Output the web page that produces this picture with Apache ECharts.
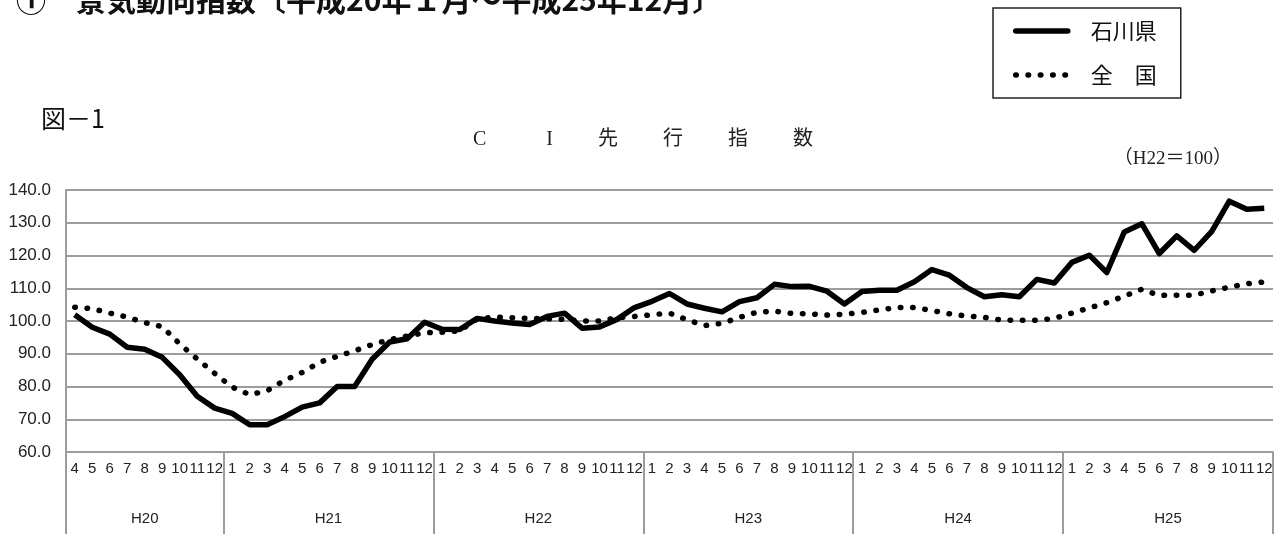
<!DOCTYPE html>
<html>
<head>
<meta charset="utf-8">
<script src="https://cdn.jsdelivr.net/npm/echarts@6/dist/echarts.min.js"></script>
<style>
  html, body { margin: 0; padding: 0; background: #fff; }
  #chart { width: 1287px; height: 534px; }
</style>
</head>
<body>
<div id="chart"></div>
<script>
// 月（H20年4月～H25年12月）
const months = [
  '4', '5', '6', '7', '8', '9', '10', '11', '12',
  '1', '2', '3', '4', '5', '6', '7', '8', '9', '10', '11', '12',
  '1', '2', '3', '4', '5', '6', '7', '8', '9', '10', '11', '12',
  '1', '2', '3', '4', '5', '6', '7', '8', '9', '10', '11', '12',
  '1', '2', '3', '4', '5', '6', '7', '8', '9', '10', '11', '12',
  '1', '2', '3', '4', '5', '6', '7', '8', '9', '10', '11', '12'
]
const years = ['H20', 'H21', 'H22', 'H23', 'H24', 'H25']

// CI先行指数（H22=100）
const ishikawa = [
  101.9, 98.1, 96.0, 92.0, 91.4, 88.9, 83.6, 77.0, 73.4,
  71.8, 68.3, 68.3, 70.8, 73.7, 75.0, 80.0, 80.0, 88.3, 93.6, 94.6, 99.6,
  97.5, 97.4, 100.8, 100.0, 99.4, 98.9, 101.4, 102.4, 97.8, 98.2, 100.5, 104.1,
  106.0, 108.4, 105.2, 103.9, 102.8, 105.9, 107.1, 111.2, 110.5, 110.6, 109.1, 105.2,
  109.0, 109.4, 109.4, 112.0, 115.7, 114.0, 110.2, 107.4, 108.0, 107.4, 112.7, 111.6,
  117.9, 120.1, 114.8, 127.2, 129.7, 120.6, 126.0, 121.6, 127.4, 136.6, 134.1, 134.4
]
const national = [
  104.2, 103.8, 102.4, 101.2, 99.5, 98.3, 93.0, 88.4, 84.0,
  79.8, 77.5, 78.7, 81.9, 84.3, 87.4, 89.2, 90.9, 92.8, 94.3, 95.4, 96.4,
  96.6, 97.0, 100.6, 101.2, 101.0, 100.8, 100.7, 100.5, 100.0, 100.0, 101.0, 101.4,
  101.9, 102.4, 100.4, 98.6, 99.3, 101.1, 102.7, 103.0, 102.3, 102.2, 101.8, 102.1,
  102.6, 103.4, 104.1, 104.1, 103.2, 102.2, 101.5, 101.1, 100.3, 100.2, 100.2, 100.8,
  102.4, 104.0, 105.6, 107.6, 109.7, 107.8, 107.9, 107.9, 109.2, 110.3, 111.4, 111.9
]

const yMin = 60
const yMax = 140
const yStep = 10

// 年の区切り（1月の位置）
const boundaries = [0]
months.forEach((m, i) => { if (i > 0 && m === '1') boundaries.push(i) })
boundaries.push(months.length)

// 年ラベル用の半月刻み軸
const yearAxisData = new Array(months.length * 2 + 1).fill('')
years.forEach((y, k) => { yearAxisData[boundaries[k] + boundaries[k + 1]] = y })
const sepIndex = new Set(boundaries.map(b => b * 2))

const gridColor = '#9c9c9c'
const sansFont = '"Liberation Sans", Arial, sans-serif'
const jpFont = '"Noto Sans CJK JP", sans-serif'
const serifFont = '"Liberation Serif", "Noto Sans CJK JP", serif'

const chart = echarts.init(document.getElementById('chart'))

chart.setOption({
  animation: false,
  backgroundColor: '#fff',
  color: ['#000', '#000'],
  graphic: [
    {
      type: 'text', x: 16, y: -15,
      style: { text: '①　景気動向指数〔平成20年１月～平成25年12月〕', font: 'bold 30px ' + jpFont, fill: '#111' }
    },
    {
      type: 'text', x: 41, y: 106,
      style: { text: '図－1', font: '25px ' + jpFont, fill: '#111' }
    },
    {
      type: 'text', x: 643, y: 140,
      style: { text: 'C　　　I　　 先　　 行　　 指　　 数', font: '20px ' + serifFont, fill: '#222', align: 'center', verticalAlign: 'middle' }
    },
    {
      type: 'text', x: 1232, y: 159,
      style: { text: '（H22＝100）', font: '19px ' + serifFont, fill: '#222', align: 'right', verticalAlign: 'middle' }
    }
  ],
  legend: {
    data: ['石川県', '全　国'],
    orient: 'vertical',
    left: 993,
    top: 8,
    padding: [12, 24, 12, 20],
    itemWidth: 52,
    itemHeight: 22,
    itemGap: 22,
    borderColor: '#222',
    borderWidth: 1.5,
    backgroundColor: '#fff',
    itemStyle: { opacity: 0 },
    lineStyle: { width: 5.5, cap: 'round', color: '#000' },
    textStyle: { fontSize: 22, fontFamily: jpFont, color: '#111', padding: [0, 0, 0, 18] }
  },
  grid: { left: 66, right: 14, top: 190, bottom: 82, containLabel: false },
  xAxis: [
    {
      type: 'category',
      data: months,
      boundaryGap: true,
      axisLine: { show: true, lineStyle: { color: gridColor, width: 2 } },
      axisTick: { show: false },
      axisLabel: { interval: 0, margin: 9, fontSize: 15, fontFamily: sansFont, color: '#222' }
    },
    {
      type: 'category',
      position: 'bottom',
      data: yearAxisData,
      boundaryGap: false,
      axisLine: { show: false },
      axisTick: {
        show: true,
        length: 82,
        interval: (idx) => sepIndex.has(idx),
        lineStyle: { color: gridColor, width: 2 }
      },
      axisLabel: { interval: 0, margin: 59, fontSize: 15, fontFamily: sansFont, color: '#222' }
    }
  ],
  yAxis: {
    type: 'value',
    min: yMin,
    max: yMax,
    interval: yStep,
    axisLine: { show: true, lineStyle: { color: gridColor, width: 2 } },
    axisTick: { show: false },
    splitLine: { show: true, lineStyle: { color: gridColor, width: 2 } },
    axisLabel: {
      margin: 15, fontSize: 17, fontFamily: sansFont, color: '#222',
      formatter: (v) => v.toFixed(1)
    }
  },
  series: [
    {
      name: '全　国',
      type: 'line',
      data: national,
      symbol: 'none',
      z: 3,
      itemStyle: { color: '#000' },
      lineStyle: { color: '#000', width: 5.5, type: [0.5, 11.8], cap: 'round' }
    },
    {
      name: '石川県',
      type: 'line',
      data: ishikawa,
      symbol: 'none',
      z: 4,
      itemStyle: { color: '#000' },
      lineStyle: { color: '#000', width: 5.5, type: 'solid', join: 'round' }
    }
  ]
})
</script>
</body>
</html>
